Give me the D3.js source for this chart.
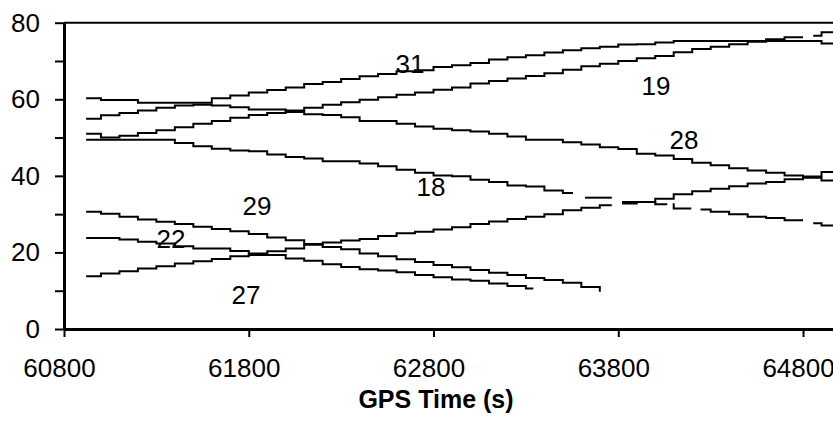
<!DOCTYPE html>
<html>
<head>
<meta charset="utf-8">
<script src="https://cdnjs.cloudflare.com/ajax/libs/d3/7.8.5/d3.min.js"></script>
<style>
body { margin: 0; background: #fff; }
svg { display: block; font-family: "Liberation Sans", Arial, sans-serif; }
</style>
</head>
<body>
<script>
// GPS time of each sample (s)
var times = [60920, 61000, 61100, 61200, 61300, 61400, 61500, 61600, 61700, 61800,
    61900, 62000, 62100, 62200, 62300, 62400, 62500, 62600, 62700, 62800,
    62900, 63000, 63100, 63200, 63300, 63400, 63500, 63600, 63700, 63800,
    63900, 64000, 64100, 64200, 64300, 64400, 64500, 64600, 64700, 64800,
    64900, 65000];

// elevation (deg) per satellite, one value per sample time
var elev31 = [60.3, 59.8, 59.8, 59.1, 59.1, 59.1, 59.1, 60.3, 61.0, 61.8, 62.4, 63.1, 64.0, 64.5,
    65.3, 66.0, 66.6, 67.3, 67.6, 68.4, 68.9, 69.5, 70.4, 71.0, 71.5, 72.2, 72.8, 73.3,
    73.7, 74.3, 74.4, 74.8, 75.2, 75.2, 75.2, 75.2, 75.2, 75.2, 75.2, 75.2, 74.6, 74.2];
var elev19 = [51.0, 50.0, 50.5, 51.2, 51.9, 52.7, 53.6, 54.3, 55.2, 55.9, 56.4, 57.1, 57.8, 58.6,
    59.2, 59.9, 60.5, 61.2, 61.8, 62.5, 63.1, 64.1, 64.8, 65.4, 66.1, 66.8, 67.7, 68.6,
    69.3, 70.0, 70.7, 71.3, 72.3, 73.1, 73.7, 74.4, 75.0, 75.7, 76.2, 76.6, 77.5, 77.8];
var elev28 = [54.9, 55.8, 56.4, 57.1, 57.8, 58.4, 58.6, 58.4, 57.9, 57.3, 57.3, 56.7, 56.1, 55.9,
    55.3, 54.3, 54.3, 53.6, 52.9, 52.3, 51.9, 51.6, 51.0, 50.3, 49.4, 49.4, 48.8, 48.2,
    47.5, 47.0, 45.8, 45.3, 44.4, 43.4, 42.8, 42.0, 41.4, 40.8, 40.1, 39.5, 38.8, 38.2];
var elev18 = [49.4, 49.4, 49.4, 49.4, 49.4, 48.6, 47.7, 47.1, 46.6, 46.4, 45.6, 44.9, 44.5, 43.8,
    43.8, 43.2, 42.5, 41.6, 40.8, 40.1, 39.9, 39.0, 38.4, 37.5, 37.2, 36.2, 35.5, 34.3,
    34.3, 33.2, 33.2, 32.6, 31.5, 31.2, 30.6, 30.0, 29.3, 29.0, 28.4, 27.6, 27.0, 26.2];
var elev29 = [30.6, 30.1, 29.3, 28.6, 28.0, 27.4, 26.7, 26.1, 25.5, 24.8, 23.9, 23.2, 22.2, 21.4,
    20.8, 19.7, 19.0, 18.2, 17.5, 16.7, 16.1, 15.4, 14.7, 14.1, 13.3, 12.8, 12.1, 11.0, 9.7];
var elev22 = [23.8, 23.8, 23.4, 22.8, 22.3, 21.6, 21.0, 21.0, 20.4, 19.7, 19.3, 18.4, 17.8, 16.9,
    16.2, 15.6, 15.3, 14.8, 14.1, 13.5, 12.9, 12.6, 11.9, 11.2, 10.6];
var elev27 = [13.8, 14.5, 15.1, 15.8, 16.4, 17.1, 17.7, 18.3, 19.0, 19.3, 20.3, 21.0, 22.0, 22.6,
    23.1, 23.5, 24.3, 25.0, 25.4, 26.0, 26.6, 27.4, 28.1, 28.7, 29.3, 30.0, 31.0, 31.7,
    32.3, 32.8, 33.2, 34.0, 35.2, 36.0, 36.6, 37.3, 38.0, 38.4, 39.1, 39.8, 41.0, 41.2];

// last time each track is seen (s)
var satIds = ["31", "19", "28", "18", "29", "22", "27"];
var trackEnds = [65000, 65000, 65000, 65000, 63700, 63340, 65000];

// missing data (from, to) per satellite
var gaps31 = [];
var gaps19 = [[64800, 64855]];
var gaps28 = [];
var gaps18 = [[63555, 63620], [63765, 63820], [64065, 64095], [64195, 64245], [64800, 64855]];
var gaps29 = [];
var gaps22 = [];
var gaps27 = [[63765, 63820]];

// where the PRN labels sit (time, elevation)
var labelTimes = [62673, 64004, 64156, 62786, 61845, 61379, 61785];
var labelElevs = [69.3, 63.6, 49.5, 37.3, 32.1, 23.5, 9.1];

var xTicks = [60800, 61800, 62800, 63800, 64800];
var yTicks = [0, 10, 20, 30, 40, 50, 60, 70, 80];

var svgW = 833;
var svgH = 439;

var svg = d3.select("body")
    .append("svg")
    .attr("width", svgW)
    .attr("height", svgH);

var xScale = d3.scaleLinear()
    .domain([60800, 65000])
    .range([64, 840]);
var yScale = d3.scaleLinear()
    .domain([0, 80])
    .range([329, 22.7]);

//top frame
svg.append("line")
    .attr("x1", xScale(60800)).attr("x2", xScale(65000))
    .attr("y1", yScale(80)).attr("y2", yScale(80))
    .attr("stroke", "#000")
    .attr("stroke-width", 2);

//Y axis
var yAxis = d3.axisLeft(yScale)
    .tickValues(yTicks)
    .tickSize(9)
    .tickSizeOuter(0)
    .tickPadding(15)
    .tickFormat(function(d) { return d % 20 === 0 ? d : ""; });

var gy = svg.append("g")
    .attr("transform", "translate(" + xScale(60800) + ",0)")
    .call(yAxis);

//X axis
var xAxis = d3.axisBottom(xScale)
    .tickValues(xTicks)
    .tickSize(8)
    .tickSizeOuter(0)
    .tickPadding(22)
    .tickFormat(d3.format("d"));

var gx = svg.append("g")
    .attr("transform", "translate(0," + yScale(0) + ")")
    .call(xAxis);
gx.selectAll("text").attr("dx", -5);

[gx, gy].forEach(function(g) {
    g.select(".domain").attr("stroke", "#000").attr("stroke-width", 3);
    g.selectAll(".tick line").attr("stroke", "#000").attr("stroke-width", 2);
    g.selectAll("text")
        .attr("fill", "#000")
        .style("font-size", "26px")
        .style("font-family", "'Liberation Sans', Arial, sans-serif");
});

svg.append("text")
    .attr("x", 436)
    .attr("y", 408)
    .attr("text-anchor", "middle")
    .style("font-size", "25px")
    .style("font-weight", "bold")
    .text("GPS Time (s)");

// build (time, elev) points and cut them where data is missing
function trackPoints(vals, end) {
    var pts = vals.map(function(v, i) { return [times[i], v]; });
    pts.push([end, vals[vals.length - 1]]);
    return pts;
}

function splitTrack(pts, gaps) {
    var start = pts[0][0];
    var end = pts[pts.length - 1][0];
    var spans = [];
    var a = start;
    gaps.forEach(function(g) { spans.push([a, g[0]]); a = g[1]; });
    spans.push([a, end]);

    function valueAt(t, inclusive) {
        var v = pts[0][1];
        pts.forEach(function(p) {
            if (p[0] < t || (inclusive && p[0] === t)) v = p[1];
        });
        return v;
    }

    return spans.map(function(s) {
        var piece = [[s[0], valueAt(s[0], true)]];
        pts.forEach(function(p) {
            if (p[0] > s[0] && p[0] < s[1]) piece.push(p);
        });
        piece.push([s[1], s[1] === end ? pts[pts.length - 1][1] : valueAt(s[1], false)]);
        return piece;
    });
}

var elevs = [elev31, elev19, elev28, elev18, elev29, elev22, elev27];
var gapLists = [gaps31, gaps19, gaps28, gaps18, gaps29, gaps22, gaps27];

var line = d3.line()
    .x(function(d) { return xScale(d[0]); })
    .y(function(d) { return yScale(d[1]); })
    .curve(d3.curveStepAfter);

var pieces = [];
satIds.forEach(function(id, i) {
    splitTrack(trackPoints(elevs[i], trackEnds[i]), gapLists[i]).forEach(function(p) {
        pieces.push({ id: id, pts: p });
    });
});

svg.append("g")
    .selectAll("path")
    .data(pieces)
    .enter()
    .append("path")
    .attr("d", function(d) { return line(d.pts); })
    .attr("fill", "none")
    .attr("stroke", "#000")
    .attr("stroke-width", 2);

//PRN labels
svg.append("g")
    .selectAll("text")
    .data(satIds)
    .enter()
    .append("text")
    .attr("x", function(d, i) { return xScale(labelTimes[i]); })
    .attr("y", function(d, i) { return yScale(labelElevs[i]); })
    .attr("dy", "0.36em")
    .attr("text-anchor", "middle")
    .style("font-size", "26px")
    .text(function(d) { return d; });
</script>
</body>
</html>
